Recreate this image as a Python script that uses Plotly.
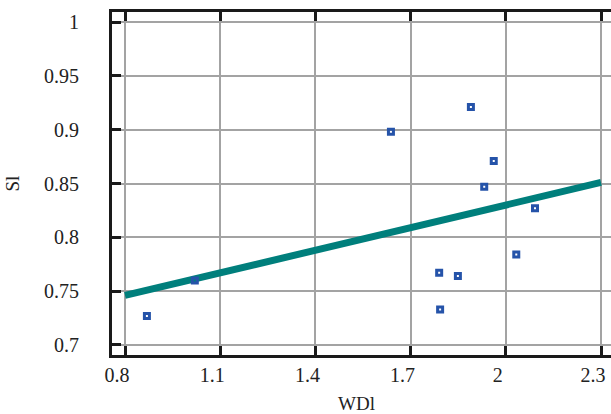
import plotly.graph_objects as go

# data
wdl = [0.869, 1.02, 1.638, 1.890, 1.962, 1.932, 2.092, 2.033, 1.790, 1.849, 1.793]
sl = [0.727, 0.760, 0.898, 0.921, 0.871, 0.847, 0.827, 0.784, 0.767, 0.764, 0.733]
fit_x = [0.8, 2.3]
fit_y = [0.746, 0.851]
x_ticks = [0.8, 1.1, 1.4, 1.7, 2.0, 2.3]
x_labels = ["0.8", "1.1", "1.4", "1.7", "2", "2.3"]
y_ticks = [0.7, 0.75, 0.8, 0.85, 0.9, 0.95, 1.0]
y_labels = ["0.7", "0.75", "0.8", "0.85", "0.9", "0.95", "1"]

XR = [0.759, 2.3315]
YR = [0.6907, 1.0093]
FONT = "Liberation Serif, Times New Roman, serif"
AX = "#1a1a1a"
GRID = "#a3a3a3"

fig = go.Figure()
fig.add_trace(go.Scatter(x=fit_x, y=fit_y, mode="lines",
                         line=dict(color="#007f7c", width=7), showlegend=False))
fig.add_trace(go.Scatter(x=wdl, y=sl, mode="markers",
                         marker=dict(symbol="square-open", size=5, color="#2553a9",
                                     line=dict(width=3, color="#2553a9")),
                         showlegend=False))

fig.update_layout(
    width=611, height=414,
    margin=dict(l=112, r=0, t=12, b=59),
    paper_bgcolor="white", plot_bgcolor="white",
    font=dict(family=FONT, size=20, color="#222222"),
    xaxis=dict(range=XR, tickvals=x_ticks, ticktext=x_labels, automargin=False,
               showgrid=True, gridcolor=GRID, gridwidth=1.6,
               zeroline=False, showline=True, linecolor=AX, linewidth=3,
               mirror="ticks", ticks="inside", ticklen=9, tickwidth=3, tickcolor=AX,
               ticklabelstandoff=0, ticklabelshift=-8, ticklabeloverflow="allow"),
    yaxis=dict(range=YR, tickvals=y_ticks, ticktext=y_labels, automargin=False,
               showgrid=True, gridcolor=GRID, gridwidth=1.6,
               zeroline=False, showline=True, linecolor=AX, linewidth=3,
               mirror=False, ticks="inside", ticklen=9, tickwidth=3, tickcolor=AX,
               ticklabelstandoff=26),
    yaxis2=dict(range=YR, tickvals=y_ticks, overlaying="y", side="right",
                automargin=False,
                showgrid=False, zeroline=False, showline=False,
                ticks="inside", ticklen=9, tickwidth=3, tickcolor=AX,
                showticklabels=False),
    annotations=[
        dict(text="WDl", xref="paper", yref="paper", x=0.489, y=-0.140,
             xanchor="center", yanchor="middle", showarrow=False,
             font=dict(size=19)),
        dict(text="Sl", xref="paper", yref="paper", x=-0.2004, y=0.5,
             xanchor="center", yanchor="middle", showarrow=False, textangle=-90,
             font=dict(size=19)),
    ],
)

fig.write_html("out.html", config={"displayModeBar": False},
               post_script="document.body.style.margin='0';document.body.style.overflow='hidden';")
